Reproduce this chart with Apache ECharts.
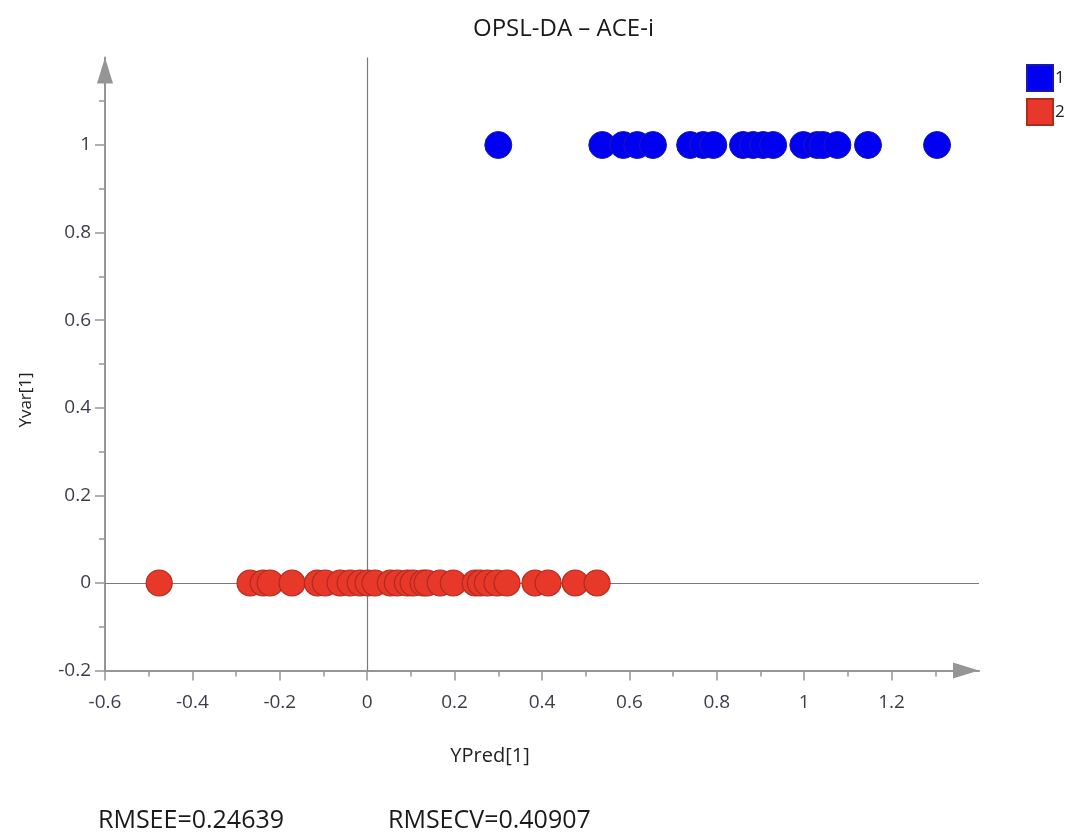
<!DOCTYPE html>
<html>
<head>
<meta charset="utf-8">
<script src="https://cdn.jsdelivr.net/npm/echarts@6/dist/echarts.min.js"></script>
<style>
  html, body { margin: 0; padding: 0; background: #ffffff; }
  #chart { width: 1071px; height: 834px; }
</style>
</head>
<body>
<div id="chart"></div>
<script>
// Predicted Y for class 1 samples (observed Yvar = 1)
const classOneYPred = [0.300, 0.538, 0.586, 0.618, 0.654, 0.739, 0.769, 0.792, 0.860, 0.883,
                       0.906, 0.929, 0.998, 1.030, 1.043, 1.076, 1.146, 1.304];
const classOneYVar = 1;

// Predicted Y for class 2 samples (observed Yvar = 0)
const classTwoYPred = [-0.476, -0.268, -0.238, -0.222, -0.172, -0.114, -0.096, -0.062, -0.039, -0.016,
                       0.002, 0.018, 0.053, 0.069, 0.092, 0.105, 0.128, 0.137, 0.167, 0.197,
                       0.247, 0.259, 0.275, 0.297, 0.320, 0.384, 0.414, 0.476, 0.526];
const classTwoYVar = 0;

// Labelled tick positions
const xTickValues = [-0.6, -0.4, -0.2, 0, 0.2, 0.4, 0.6, 0.8, 1, 1.2];
const yTickValues = [-0.2, 0, 0.2, 0.4, 0.6, 0.8, 1];

const seriesNames = ['1', '2'];
const chartTitle = 'OPSL-DA \u2013 ACE-i';
const statLines = ['RMSEE=0.24639', 'RMSECV=0.40907'];

const axisGrey = '#959595';
const labelColor = '#3d3d4a';
const fontFamily = '"Open Sans", "Noto Sans", sans-serif';

const chart = echarts.init(document.getElementById('chart'), null, { renderer: 'canvas' });

function axisCommon(ticks) {
  return {
    type: 'value',
    interval: 0.2,
    splitLine: { show: false },
    axisLine: {
      onZero: false,
      lineStyle: { color: axisGrey, width: 2 },
      symbol: ['none', 'triangle'],
      symbolSize: [16, 26],
      symbolOffset: [0, -13]
    },
    axisTick: { show: true, length: 10, customValues: ticks, lineStyle: { color: axisGrey, width: 1.5 } },
    minorTick: { show: true, splitNumber: 2, length: 6, lineStyle: { color: axisGrey, width: 1.5 } },
    axisLabel: {
      customValues: ticks,
      color: labelColor,
      fontFamily: fontFamily,
      fontSize: 19,
      formatter: v => String(Math.round(v * 10) / 10)
    }
  };
}

const xAxis = Object.assign(axisCommon(xTickValues), {
  min: -0.6,
  max: 1.4,
  name: 'YPred[1]',
  nameLocation: 'middle',
  nameGap: 76,
  nameTextStyle: { color: '#222', fontFamily: fontFamily, fontSize: 20, padding: [0, 104, 0, 0] }
});
xAxis.axisLabel.margin = 22;

const yAxis = Object.assign(axisCommon(yTickValues), {
  min: -0.2,
  max: 1.2,
  name: 'Yvar[1]',
  nameLocation: 'middle',
  nameGap: 70,
  nameTextStyle: { color: '#222', fontFamily: fontFamily, fontSize: 17, padding: [0, 72, 0, 0] }
});
yAxis.axisLabel.margin = 14;

const option = {
  backgroundColor: '#ffffff',
  animation: false,
  title: [
    {
      text: chartTitle,
      left: 468,
      top: 12,
      textStyle: { color: '#1a1a1a', fontFamily: fontFamily, fontSize: 24, fontWeight: 'normal' }
    },
    {
      text: statLines[0],
      left: 93,
      top: 803,
      textStyle: { color: '#1a1a1a', fontFamily: fontFamily, fontSize: 25, fontWeight: 'normal' }
    },
    {
      text: statLines[1],
      left: 383,
      top: 803,
      textStyle: { color: '#1a1a1a', fontFamily: fontFamily, fontSize: 25, fontWeight: 'normal' }
    }
  ],
  legend: {
    data: seriesNames,
    orient: 'vertical',
    left: 1026,
    top: 64,
    padding: 0,
    itemWidth: 26,
    itemHeight: 26,
    itemGap: 6,
    icon: 'rect',
    textStyle: { color: '#222', fontFamily: fontFamily, fontSize: 17, padding: [0, 0, 0, -3] }
  },
  grid: { left: 105, right: 92, top: 57.4, bottom: 163.4, containLabel: false },
  xAxis: xAxis,
  yAxis: yAxis,
  series: [
    {
      // reference lines through the origin
      name: 'zero',
      type: 'scatter',
      data: [],
      z: 1,
      markLine: {
        silent: true,
        symbol: 'none',
        z: 1,
        label: { show: false },
        lineStyle: { color: '#7a7a7a', width: 1.2, type: 'solid' },
        data: [{ xAxis: 0 }, { yAxis: 0 }]
      }
    },
    {
      name: seriesNames[0],
      type: 'scatter',
      z: 3,
      symbol: 'circle',
      symbolSize: 27,
      itemStyle: { color: '#0000f2', borderColor: '#1a1aa8', borderWidth: 1, opacity: 1 },
      data: classOneYPred.map(x => [x, classOneYVar])
    },
    {
      name: seriesNames[1],
      type: 'scatter',
      z: 3,
      symbol: 'circle',
      symbolSize: 26,
      itemStyle: { color: '#e8382a', borderColor: '#b02a20', borderWidth: 1.2, opacity: 1 },
      data: classTwoYPred.map(x => [x, classTwoYVar])
    }
  ]
};

chart.setOption(option);
</script>
</body>
</html>
